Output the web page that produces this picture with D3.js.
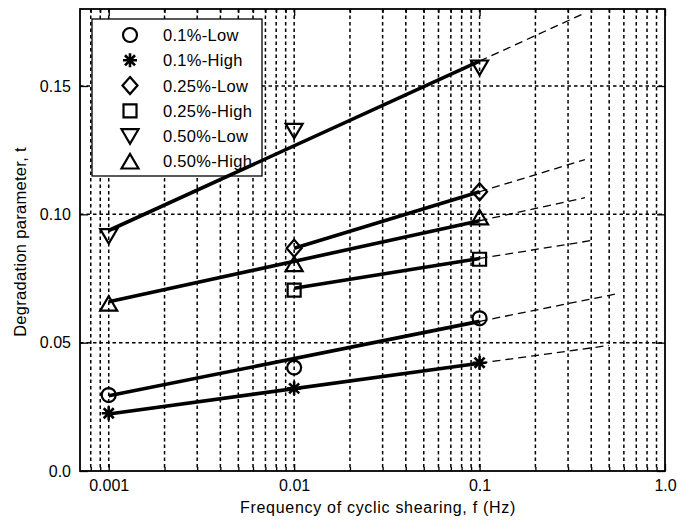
<!DOCTYPE html>
<html>
<head>
<meta charset="utf-8">
<script src="https://cdn.jsdelivr.net/npm/d3@7"></script>
<style>
body { margin: 0; background: #fff; }
svg { display: block; font-family: "Liberation Sans", Arial, sans-serif; }
</style>
</head>
<body>
<svg id="chart" width="678" height="520"></svg>
<script>
// measured points (frequency in Hz, degradation parameter t)
const freqs = [0.001, 0.01, 0.1];
const seriesNames = ["0.1%-Low", "0.1%-High", "0.25%-Low", "0.25%-High", "0.50%-Low", "0.50%-High"];
const markerTypes = ["circle", "star", "diamond", "square", "triDown", "triUp"];

const low01 = [0.0296, 0.0403, 0.0595];
const high01 = [0.0225, 0.0322, 0.0422];
const low025 = [null, 0.0868, 0.1088];
const high025 = [null, 0.0705, 0.0825];
const low050 = [0.0915, 0.1325, 0.1572];
const high050 = [0.0652, 0.0806, 0.0988];
const seriesValues = [low01, high01, low025, high025, low050, high050];

// fitted lines (straight in log f): start freq, value there, value at 0.1, end of dashed extension
const fitFrom = [0.001, 0.001, 0.01, 0.01, 0.001, 0.001];
const fitStart = [0.0293, 0.0222, 0.0868, 0.0712, 0.0937, 0.0659];
const fitEnd = [0.0583, 0.0420, 0.1088, 0.0828, 0.1597, 0.0975];
const extendTo = [0.55, 0.5, 0.37, 0.41, 0.37, 0.37];

const xTicks = [0.001, 0.01, 0.1, 1];
const xTickLabels = ["0.001", "0.01", "0.1", "1.0"];
const yTicks = [0, 0.05, 0.1, 0.15];
const yTickLabels = ["0.0", "0.05", "0.10", "0.15"];

const svg = d3.select("#chart");
const pLeft = 80, pRight = 665, pTop = 9, pBottom = 471;

const x = d3.scaleLog().domain([0.0007, 1]).range([pLeft, pRight]);
const y = d3.scaleLinear().domain([0, 0.18]).range([pBottom, pTop]);

const minorX = x.ticks().filter(d => !xTicks.some(t => Math.abs(t - d) / t < 1e-6) && d > 0.00071);

// grid
const grid = svg.append("g").attr("stroke", "#000").attr("stroke-width", 1.5).attr("stroke-dasharray", "3.5,3");
grid.selectAll(".vx").data(minorX.concat(xTicks.slice(0, 3))).join("line")
  .attr("x1", d => x(d)).attr("x2", d => x(d))
  .attr("y1", pTop).attr("y2", pBottom);
grid.selectAll(".hy").data(yTicks.slice(1)).join("line")
  .attr("x1", pLeft).attr("x2", pRight)
  .attr("y1", d => y(d)).attr("y2", d => y(d));

// legend
const legend = svg.append("g").attr("transform", "translate(92,19)");
legend.append("rect").attr("width", 170).attr("height", 157)
  .attr("fill", "#fff").attr("stroke", "#000").attr("stroke-width", 1.3);

function markerPath(type) {
  const p = d3.path();
  if (type === "circle") {
    p.moveTo(7, 0); p.arc(0, 0, 7, 0, 2 * Math.PI);
  } else if (type === "star") {
    const r = 7, s = r * 0.72;
    p.moveTo(-r, 0); p.lineTo(r, 0);
    p.moveTo(0, -r); p.lineTo(0, r);
    p.moveTo(-s, -s); p.lineTo(s, s);
    p.moveTo(-s, s); p.lineTo(s, -s);
  } else if (type === "diamond") {
    p.moveTo(0, -8.5); p.lineTo(7.5, 0); p.lineTo(0, 8.5); p.lineTo(-7.5, 0); p.closePath();
  } else if (type === "square") {
    p.rect(-6.5, -6.5, 13, 13);
  } else if (type === "triDown") {
    p.moveTo(-8.5, -7); p.lineTo(8.5, -7); p.lineTo(0, 7.5); p.closePath();
  } else if (type === "triUp") {
    p.moveTo(-8.5, 7); p.lineTo(8.5, 7); p.lineTo(0, -7.5); p.closePath();
  }
  return p.toString();
}

const rows = legend.selectAll(".row").data(seriesNames).join("g")
  .attr("transform", (d, i) => `translate(0,${16 + i * 25.3})`);
rows.append("path").attr("transform", "translate(38,0)")
  .attr("d", (d, i) => markerPath(markerTypes[i]))
  .attr("fill", "none").attr("stroke", "#000")
  .attr("stroke-width", (d, i) => markerTypes[i] === "star" ? 2.6 : 2.2);
rows.append("text").attr("x", 71).attr("dy", "0.36em")
  .attr("font-size", 16.5).attr("letter-spacing", 0.3).text(d => d);

// fitted lines
function fitValue(i, f) {
  const a = Math.log10(fitFrom[i]), b = Math.log10(0.1);
  return fitStart[i] + (fitEnd[i] - fitStart[i]) * (Math.log10(f) - a) / (b - a);
}
const line = d3.line().x(d => x(d[0])).y(d => y(d[1]));
const fits = svg.append("g").attr("fill", "none").attr("stroke", "#000");
seriesNames.forEach((name, i) => {
  fits.append("path")
    .attr("d", line([[fitFrom[i], fitStart[i]], [0.1, fitEnd[i]]]))
    .attr("stroke-width", 3.6);
  fits.append("path")
    .attr("d", line([[0.1, fitEnd[i]], [extendTo[i], fitValue(i, extendTo[i])]]))
    .attr("stroke-width", 1.3).attr("stroke-dasharray", "8,5");
});

// markers
const marks = svg.append("g").attr("fill", "none").attr("stroke", "#000");
seriesValues.forEach((vals, i) => {
  const pts = freqs.map((f, j) => [f, vals[j]]).filter(d => d[1] != null);
  marks.selectAll(null).data(pts).join("path")
    .attr("transform", d => `translate(${x(d[0])},${y(d[1])})`)
    .attr("d", markerPath(markerTypes[i]))
    .attr("stroke-width", markerTypes[i] === "star" ? 2.6 : 2.2);
});

// axes: ticks point inward
function styleAxis(g) {
  g.select(".domain").remove();
  g.selectAll("line").attr("stroke", "#000").attr("stroke-width", 1.3);
  g.selectAll("text").attr("fill", "#000").attr("font-size", 16).attr("font-family", "Liberation Sans, Arial, sans-serif");
}
svg.append("g").attr("transform", `translate(0,${pBottom})`)
  .call(d3.axisBottom(x).tickValues(xTicks).tickFormat((d, i) => xTickLabels[i]).tickSize(-7).tickPadding(9))
  .call(styleAxis);
svg.append("g").attr("transform", `translate(0,${pBottom})`)
  .call(d3.axisBottom(x).tickValues(minorX).tickFormat("").tickSize(-4))
  .call(styleAxis);
svg.append("g").attr("transform", `translate(0,${pTop})`)
  .call(d3.axisTop(x).tickValues(xTicks).tickFormat("").tickSize(-7))
  .call(styleAxis);
svg.append("g").attr("transform", `translate(0,${pTop})`)
  .call(d3.axisTop(x).tickValues(minorX).tickFormat("").tickSize(-4))
  .call(styleAxis);
svg.append("g").attr("transform", `translate(${pLeft},0)`)
  .call(d3.axisLeft(y).tickValues(yTicks).tickFormat((d, i) => yTickLabels[i]).tickSize(-8).tickPadding(9))
  .call(styleAxis);
svg.append("g").attr("transform", `translate(${pRight},0)`)
  .call(d3.axisRight(y).tickValues(yTicks).tickFormat("").tickSize(-8))
  .call(styleAxis);

svg.append("rect").attr("x", pLeft).attr("y", pTop)
  .attr("width", pRight - pLeft).attr("height", pBottom - pTop)
  .attr("fill", "none").attr("stroke", "#000").attr("stroke-width", 1.8);

// titles
svg.append("text").attr("x", 378).attr("y", 513)
  .attr("text-anchor", "middle").attr("font-size", 16).attr("letter-spacing", 0.7)
  .text("Frequency of cyclic shearing, f (Hz)");
svg.append("text").attr("transform", "translate(26,242) rotate(-90)")
  .attr("text-anchor", "middle").attr("font-size", 16.5).attr("letter-spacing", 0.3)
  .text("Degradation parameter, t");
</script>
</body>
</html>
